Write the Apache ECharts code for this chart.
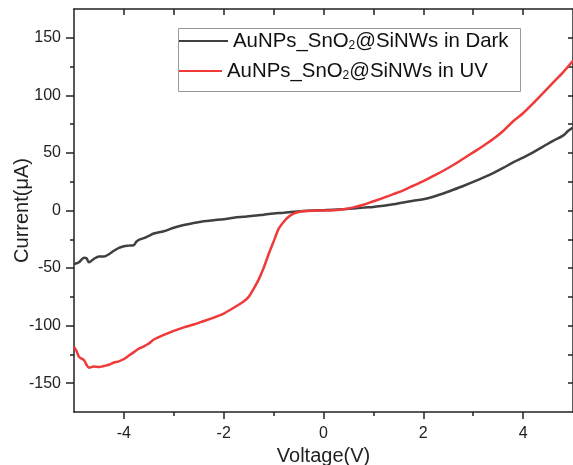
<!DOCTYPE html>
<html>
<head>
<meta charset="utf-8">
<script src="https://cdn.jsdelivr.net/npm/echarts@6/dist/echarts.min.js"></script>
<style>
html,body{margin:0;padding:0;background:#fff;}
#c{width:573px;height:465px;}
</style>
</head>
<body>
<div id="c"></div>
<script>
// ---- data ----
var darkV = [-5.0,-4.9,-4.8,-4.75,-4.7,-4.6,-4.5,-4.4,-4.3,-4.2,-4.1,-4.0,-3.9,-3.8,-3.75,-3.7,-3.6,-3.5,-3.4,-3.2,-3.0,-2.8,-2.6,-2.4,-2.2,-2.0,-1.8,-1.6,-1.4,-1.2,-1.0,-0.8,-0.6,-0.4,-0.2,0.0,0.2,0.4,0.6,0.8,1.0,1.2,1.4,1.6,1.8,2.0,2.2,2.4,2.6,2.8,3.0,3.2,3.4,3.6,3.8,4.0,4.2,4.4,4.6,4.8,4.9,5.0];
var darkI = [-46.5,-45,-41,-41.5,-45,-42,-40,-40,-38,-35,-32.5,-31,-30.5,-30,-27,-25.5,-24,-22,-20,-18,-15,-12.6,-10.8,-9.3,-8.4,-7.6,-6.2,-5.4,-4.6,-3.6,-2.6,-1.9,-1.1,-0.4,0,0.3,0.6,1.1,1.7,2.5,3.1,4.2,5.4,7,8.4,9.8,12,14.8,18,21.3,24.8,28.5,32.5,37,41.8,46,50.5,55.5,60.5,65,69,72];
var uvV = [-5.0,-4.95,-4.9,-4.8,-4.75,-4.7,-4.6,-4.5,-4.4,-4.3,-4.2,-4.1,-4.0,-3.9,-3.8,-3.7,-3.6,-3.5,-3.4,-3.2,-3.0,-2.8,-2.6,-2.4,-2.2,-2.0,-1.8,-1.6,-1.5,-1.4,-1.3,-1.2,-1.1,-1.0,-0.9,-0.8,-0.7,-0.6,-0.5,-0.4,-0.2,0.0,0.2,0.4,0.6,0.8,1.0,1.2,1.4,1.6,1.8,2.0,2.2,2.4,2.6,2.8,3.0,3.2,3.4,3.6,3.8,4.0,4.2,4.4,4.6,4.8,5.0];
var uvI = [-118.5,-122,-127,-130,-134,-136.5,-135.5,-136,-135,-134,-132,-131,-129,-126,-123,-120,-118,-115.5,-112,-108,-104.5,-101.5,-99,-96,-93,-89.5,-84.5,-79,-75,-68,-60,-50,-38,-27,-16,-10,-5.5,-2.8,-1.3,-0.6,-0.2,0,0.3,1,2.7,5,8,11,14.2,17.5,21.5,25.5,30,34.5,39.5,45,50.5,56,62,69,77.5,84.5,93,102,111,120,130];
var xLabels = [-4,-2,0,2,4];
var xMinor = [-3,-1,1,3];
var xTop = [-4,-3,-2,-1,0,1,2,3,4];
var yLabels = [-150,-100,-50,0,50,100,150];
var yMinor = [-125,-75,-25,25,75,125];
var yRight = [-150,-125,-100,-75,-50,-25,0,25,50,75,100,125,150];
var nameDark = 'AuNPs_SnO2@SiNWs in Dark';
var nameUV = 'AuNPs_SnO2@SiNWs in UV';

function pairs(xs, ys){ return xs.map(function(x,i){ return [x, ys[i]]; }); }

var FONT = 'Liberation Sans, Arial, sans-serif';
var AX = '#222';
var chart = echarts.init(document.getElementById('c'), null, {renderer:'canvas'});

function legendFmt(name){
  var p = name.split('2');
  return '{a|' + p[0] + '}{s|2}{a|' + p[1] + '}';
}
var legRich = {
  a:{fontSize:20.4, lineHeight:22, fontFamily:FONT, color:'#111'},
  s:{fontSize:12, lineHeight:16, verticalAlign:'bottom', fontFamily:FONT, color:'#111'}
};

var option = {
  animation:false,
  backgroundColor:'#fff',
  grid:{left:74, right:0, top:9, bottom:53, containLabel:false, outerBoundsMode:'none'},
  xAxis:[
    {type:'value', position:'bottom', min:-5, max:5,
     name:'Voltage(V)', nameLocation:'middle', nameGap:34, nameMoveOverlap:false,
     nameTextStyle:{fontSize:20, fontFamily:FONT, color:AX},
     axisLine:{show:true, onZero:false, lineStyle:{color:AX, width:1.5}},
     axisTick:{show:true, customValues:xLabels, length:7, inside:false, lineStyle:{color:AX, width:1.5}},
     axisLabel:{customValues:xLabels, fontSize:16, fontFamily:FONT, color:AX, margin:14},
     splitLine:{show:false}},
    {type:'value', position:'bottom', min:-5, max:5,
     axisLine:{show:false, onZero:false},
     axisTick:{show:true, customValues:xMinor, length:4, lineStyle:{color:AX, width:1.5}},
     axisLabel:{show:false}, splitLine:{show:false}},
    {type:'value', position:'top', min:-5, max:5,
     axisLine:{show:true, onZero:false, lineStyle:{color:AX, width:1.5}},
     axisTick:{show:true, customValues:xTop, length:6, inside:true, lineStyle:{color:AX, width:1.5}},
     axisLabel:{show:false}, splitLine:{show:false}}
  ],
  yAxis:[
    {type:'value', position:'left', min:-175, max:175,
     name:'Current(\u03bcA)', nameLocation:'middle', nameGap:42, nameMoveOverlap:false,
     nameTextStyle:{fontSize:20, fontFamily:FONT, color:AX},
     axisLine:{show:true, onZero:false, lineStyle:{color:AX, width:1.5}},
     axisTick:{show:true, customValues:yLabels, length:8, lineStyle:{color:AX, width:1.5}},
     axisLabel:{customValues:yLabels, fontSize:16, fontFamily:FONT, color:AX, margin:13},
     splitLine:{show:false}},
    {type:'value', position:'left', min:-175, max:175,
     axisLine:{show:false, onZero:false},
     axisTick:{show:true, customValues:yMinor, length:4, lineStyle:{color:AX, width:1.5}},
     axisLabel:{show:false}, splitLine:{show:false}},
    {type:'value', position:'right', min:-175, max:175,
     axisLine:{show:true, onZero:false, lineStyle:{color:AX, width:1.5}},
     axisTick:{show:true, customValues:yRight, length:5, inside:true, lineStyle:{color:AX, width:1.5}},
     axisLabel:{show:false}, splitLine:{show:false}}
  ],
  legend:[
    {data:[nameDark], left:178, top:31, padding:0, itemWidth:50, itemHeight:2,
     icon:'rect', formatter:legendFmt, textStyle:{rich:legRich}},
    {data:[nameUV], left:178, top:61, padding:0, itemWidth:44, itemHeight:2,
     icon:'rect', formatter:legendFmt, textStyle:{rich:legRich}}
  ],
  graphic:[
    {type:'rect', shape:{x:178.5, y:28.5, width:342, height:63},
     style:{fill:'none', stroke:'#999', lineWidth:1}, z:100}
  ],
  series:[
    {name:nameDark, type:'line', xAxisIndex:0, yAxisIndex:0, data:pairs(darkV, darkI),
     showSymbol:false, symbol:'none', smooth:0.3,
     lineStyle:{color:'#404040', width:2.5}, itemStyle:{color:'#404040'}},
    {name:nameUV, type:'line', xAxisIndex:0, yAxisIndex:0, data:pairs(uvV, uvI),
     showSymbol:false, symbol:'none', smooth:0.3,
     lineStyle:{color:'#f03a3a', width:2.5}, itemStyle:{color:'#f03a3a'}}
  ]
};
chart.setOption(option);
</script>
</body>
</html>
